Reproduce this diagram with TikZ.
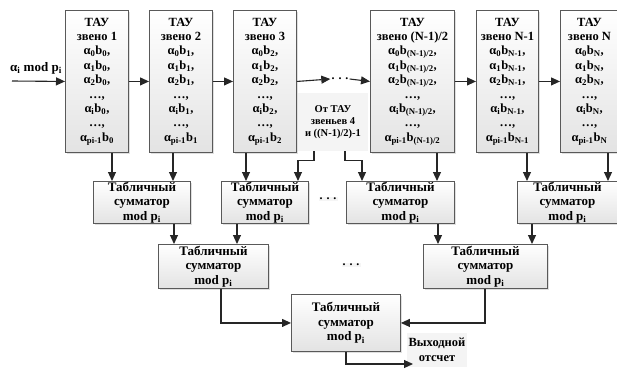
\documentclass[tikz,border=0pt]{standalone}
\usepackage{fontspec}
\setmainfont{Liberation Serif}
\usetikzlibrary{arrows.meta,shadows}
\newcommand{\subx}[1]{\textsubscript{#1}}
\newcommand{\taubody}[2]{ТАУ\\звено #1\\α\subx{0}b\subx{#2},\\α\subx{1}b\subx{#2},\\α\subx{2}b\subx{#2},\\…,\\α\subx{i}b\subx{#2},\\…,\\α\subx{pi-1}b\subx{#2}}
\newcommand{\addbody}{Табличный\\сумматор\\mod p\subx{i}}
\begin{document}
\begin{tikzpicture}[x=1pt,y=-1pt,
  arr/.style={draw=black!85, line width=1.1pt, -{Triangle[length=9pt,width=8pt]}},
  blk/.style={draw=black!65, line width=0.9pt, top color=white, bottom color=gray!22,
    inner sep=0pt, anchor=north west, align=center,
    drop shadow={opacity=0.25, shadow xshift=1.2pt, shadow yshift=-1.2pt}},
  taubox/.style={blk, minimum height=142pt, font=\rmfamily\bfseries\fontsize{12.5}{14.4}\selectfont},
  addbox/.style={blk, font=\rmfamily\bfseries\fontsize{13}{14.6}\selectfont},
  dotsn/.style={font=\rmfamily\bfseries\fontsize{12}{12}\selectfont, inner sep=1pt},
  note/.style={fill=gray!9, align=center, inner sep=0pt}
]
\useasboundingbox (0,0) rectangle (617,369);

% TAU boxes
\node[taubox, minimum width=63pt] (t1) at (65,10) {\taubody{1}{0}};
\node[taubox, minimum width=63pt] (t2) at (149,10) {\taubody{2}{1}};
\node[taubox, minimum width=63pt] (t3) at (233,10) {\taubody{3}{2}};
\node[taubox, minimum width=84pt] (t4) at (370,10) {\taubody{(N-1)/2}{(N-1)/2}};
\node[taubox, minimum width=62pt] (t5) at (476,10) {\taubody{N-1}{N-1}};
\node[taubox, minimum width=58pt] (t6) at (560,10) {\taubody{N}{N}};

% input
\coordinate (in) at (12,81);
\node[font=\rmfamily\bfseries\fontsize{13}{13}\selectfont, inner sep=0pt] (inlab) at (36,68) {α\subx{i} mod p\subx{i}};
\draw[arr] (in) -- (t1.west);
\draw[arr] (t1.east) -- (t2.west);
\draw[arr] (t2.east) -- (t3.west);
\node[dotsn] (d1) at (340,79) {.\,\,.\,\,.};
\draw[arr] (t3.east) -- (d1.west);
\draw[arr] (d1.east) -- (t4.west);
\draw[arr] (t4.east) -- (t5.west);
\draw[arr] (t5.east) -- (t6.west);

% note from other links
\node[note, minimum width=70pt, minimum height=58pt, font=\rmfamily\bfseries\fontsize{10.5}{12}\selectfont] (lab) at (333,122) {От ТАУ\\звеньев 4\\и ((N-1)/2)-1};

% adders row 1
\node[addbox, minimum width=97pt, minimum height=42pt] (a1) at (93,181) {\addbody};
\node[addbox, minimum width=87pt, minimum height=42pt] (a2) at (221,181) {\addbody};
\node[addbox, minimum width=108pt, minimum height=42pt] (a3) at (346,181) {\addbody};
\node[addbox, minimum width=100pt, minimum height=42pt] (a4) at (517,181) {\addbody};
\node[dotsn, fill=gray!8] (d2) at (328,199) {.\,\,.\,\,.};

% adders row 2
\node[addbox, minimum width=110pt, minimum height=44pt] (a5) at (158,244) {\addbody};
\node[addbox, minimum width=124pt, minimum height=44pt] (a6) at (423,244) {\addbody};
\node[dotsn, fill=gray!8] (d3) at (351,265) {.\,\,.\,\,.};

% final adder
\node[addbox, minimum width=109pt, minimum height=57pt] (af) at (291,294) {\addbody};
\node[note, minimum width=60pt, minimum height=34pt, font=\rmfamily\bfseries\fontsize{12.5}{15}\selectfont] (outlab) at (437,350) {Выходной\\отсчет};
\coordinate (out) at (413,364);

% x positions
\coordinate (x112) at (112,0);
\coordinate (x173) at (173,0);
\coordinate (x246) at (246,0);
\coordinate (x298) at (298,0);
\coordinate (x314) at (314,0);
\coordinate (x345) at (345,0);
\coordinate (x362) at (362,0);
\coordinate (x437) at (437,0);
\coordinate (x527) at (527,0);
\coordinate (x608) at (608,0);
\coordinate (x174) at (174,0);
\coordinate (x237) at (237,0);
\coordinate (x438) at (438,0);
\coordinate (x532) at (532,0);
\coordinate (x221) at (221,0);
\coordinate (x485) at (485,0);
\coordinate (x346) at (346,0);

% TAU -> row 1
\draw[arr] (x112 |- t1.south) -- (x112 |- a1.north);
\draw[arr] (x173 |- t2.south) -- (x173 |- a1.north);
\draw[arr] (x246 |- t3.south) -- (x246 |- a2.north);
\draw[arr] (x314 |- lab.south) -- ++(0,9) -| (x298 |- a2.north);
\draw[arr] (x345 |- lab.south) -- ++(0,9) -| (x362 |- a3.north);
\draw[arr] (x437 |- t4.south) -- (x437 |- a3.north);
\draw[arr] (x527 |- t5.south) -- (x527 |- a4.north);
\draw[arr] (x608 |- t6.south) -- (x608 |- a4.north);

% row 1 -> row 2
\draw[arr] (x174 |- a1.south) -- (x174 |- a5.north);
\draw[arr] (x237 |- a2.south) -- (x237 |- a5.north);
\draw[arr] (x438 |- a3.south) -- (x438 |- a6.north);
\draw[arr] (x532 |- a4.south) -- (x532 |- a6.north);

% row 2 -> final
\draw[arr] (x221 |- a5.south) |- (af.west);
\draw[arr] (x485 |- a6.south) |- (af.east);
\draw[arr] (x346 |- af.south) |- (out);
\end{tikzpicture}
\end{document}
